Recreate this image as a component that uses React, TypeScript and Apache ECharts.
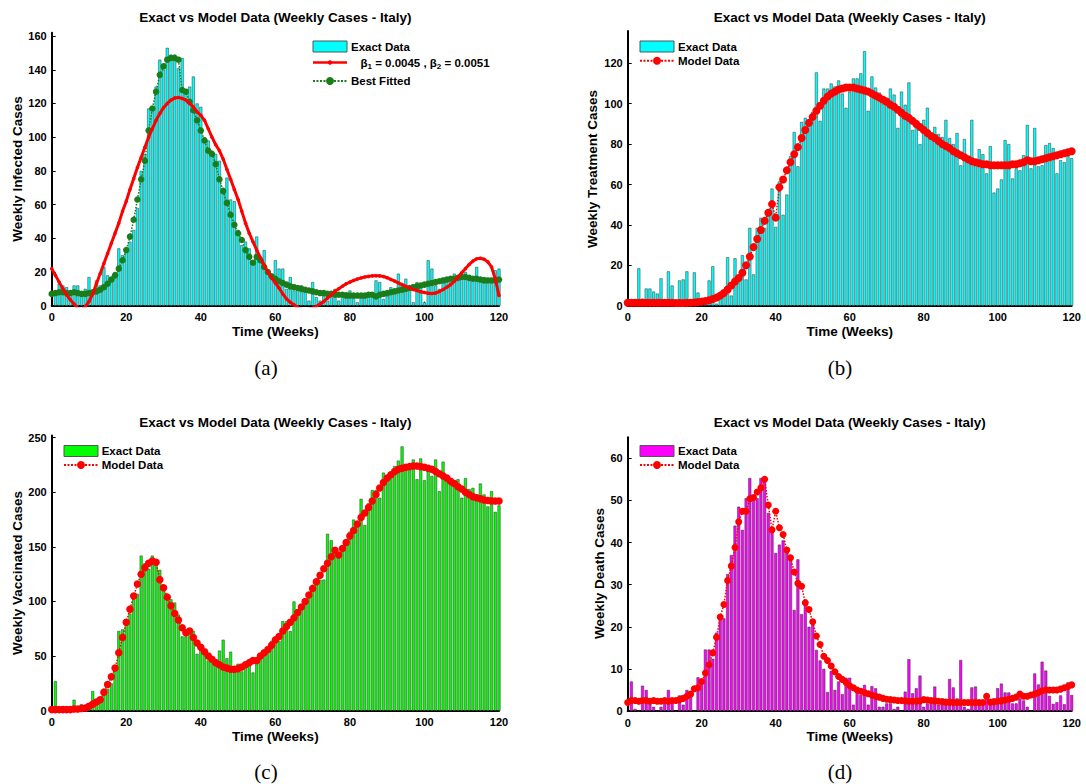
import { useEffect, useRef } from 'react';
import * as echarts from 'echarts';

// ---------- data (weeks 1..120 for bars, weeks 0..120 for model curves) ----------
const infectedBars = [7,13,12,11,8,12,12,6,10,17, 7,15,12,23,18,17,20,34,30,32, 38,45,58,80,90,117,117,130,146,140, 153,149,149,141,147,128,130,136,120,118, 100,98,92,90,86,70,76,63,62,45, 36,38,34,26,41,28,33,20,17,27, 22,22,10,17,9,12,12,10,3,14, 5,3,6,3,5,10,3,6,8,9, 5,2,5,7,8,8,15,14,4,6, 11,10,19,12,16,10,2,14,13,2, 27,22,12,10,15,16,17,19,16,17, 20,18,15,23,16,17,16,15,21,22];
const infectedBeta = [22,18,14,10,6.5,3.5,1,-1.5,-2.5,-0.5, 2.5,7,13,19,25,31,37,43,49,56, 62,69,75.5,82,88,94,100,105,110,114, 117.5,120,122,123.2,123.6,123,122,120,118,115, 113,110,105,100,95.5,92,87,81,75,69, 63,56,49,43,38,33,28.5,24,20,16.5, 13.5,10.5,7,4,2,0.5,-1,-2,-2.5,-2, -1.5,-0.3,1,2.5,4.5,6.5,8.5,10,11.5,13, 14,15,15.8,16.5,17,17.4,17.7,17.8,17.7,17.3, 16.6,15.6,14.6,13.5,12.5,11.5,10.5,9.6,9,8.3, 7.8,7.4,7.3,7.6,8.4,9.6,11,12.5,14.5,17, 19.5,22,24.5,26.5,27.8,28.2,27.6,26,23,16, 6];
const infectedBest = [7,7.5,8,8,7.5,7.5,8,7.5,7,7, 7.5,8,8.5,9.5,11,13,15.5,18,22,27, 33,41,51,63,75,86,104,117,127,137, 142,146,147,147,146,128,127,121,116,110, 104,98,92,90,84,75,68,61,54,48, 43,39,33,29,25.5,29,27,23,20,17.5, 16,14.5,13.5,12.5,11.5,11,10.5,10,9.5,9, 8.5,8,7.5,7.5,7,7,6.5,6.5,6.5,6, 6,6,6,6,6,6.5,6.5,5.5,6.5,7, 7.5,8,8.5,9,9.5,10,10.5,11,11.5,12, 12.5,13,13.5,14,14.5,15,15.5,16,16,16.5, 17,17,16.5,16,16,15.5,15,15,15,15, 15.5];

const treatmentBars = [3,1,18.5,3.5,8.5,8.5,7,6,13.5,1, 17,10,1,12.5,13,17,1,16.5,6.5,1, 1,12.5,19.5,1,6.5,6,24,5,23.5,13, 25,13,38.5,15.5,38.5,43.5,38.5,45,58,39, 61.5,45,55,74,86,69,91,93,90,96, 115.5,91.5,107.5,107.5,110,108.5,111.5,105,98,106, 112.5,112.5,115,126,96.5,113.5,108,105.5,100,103, 107.5,104.5,88,106,99.5,110.5,87,89,80,92, 98,85,88.5,85,83.5,92,83,80,85.5,69.5, 82.5,72.5,92,72,77.5,75,65.5,79,56,58, 62.5,82,80,63,68,67,74.5,89.5,68,88, 69,69.5,79.5,80.5,78,65.5,72,71,74,73];
const treatmentModel = [1.5,1.5,1.5,1.5,1.5,1.5,1.5,1.5,1.5,1.5, 1.5,1.5,1.5,1.3,1.3,1.3,1.4,1.5,1.6,1.8, 2,2.3,2.7,3.3,4,5,6.3,8,10,12, 13.7,16.3,20,24.3,29,33,37.5,42,46,50.3, 43.6,58.6,62.5,67,71,75,78.5,83,87,90.5, 93.5,96.5,99,101.5,103.5,105,106,107,107.5,108, 108,108,107.5,107,106.5,106,105,104,103,102, 101,99.5,98.5,97,95.5,94,93,91.5,90,88.5, 87,85.5,84,83,81.5,80,79,78,76.5,75.5, 74.5,73.5,72.5,71.5,71,70.5,70,70,69.5,69.5, 69.5,69.5,69.5,69.5,70,70,70.5,71,72,71.5, 71.5,72,72.5,73,73.5,74,74.5,75,75.5,76, 76.5];

const vaccinatedBars = [27,1,1,1,1,10,2,6,5,4, 18,8,10,18,20,25,40,73,74.5,83, 89,102,107,142,135,130,142,138,129,115, 103,102,99,88,68,68,74,73,52,60, 56,46,45,45,55,65,48,54,36,43, 36,45,43,35,45,52,50,55,64,68, 64,82,82,73,100,92,92,98,108,114, 121,120,120,162,156,144,141,150,156,164, 175,170,194,170,190,202,202,195,218,215, 218,224,229,242,222,226,230,212,231,211, 222,215,230,201,228,216,207,210,212,195, 213,203,204,198,208,198,187,201,182,188];
const vaccinatedModel = [1,1,1,1,1,1,1.5,1.5,2,2.5, 4,6,8,10,17,24,31,39,53,67, 81,93,105,116,125,131,135,137,136,120, 112.6,104,96,89,83,76,71.4,73,67,62, 58,54,50,47,44,42,40,39,38,38, 38.5,40,42,44,46,46,50,53,56,60, 64.7,68,73,77,81,85,90,95,100,106, 112,118,124,130,135,141,147,142.5,148.6,154, 160,165,171,177,181,186,192,198,204,209, 213,216,219,221,222,223,223.5,224,224,223.5, 223,222,221,219,217,215,213,210,208,205, 203,200,198,196,195,194,193,192.5,192,192, 192];

const deathBars = [7,0.5,0,6,5,2,1,0,1,3, 5,3,0,3.7,1.5,5,4,0,8,7, 14.6,14.6,12.4,18.6,22,22,32.5,37,44,48.5, 43,50.5,55.3,51,50.5,55.3,55,47,43,37.5, 39.5,40.5,37.5,37,24,36,23,26.5,20,21, 14.5,12,10,4.5,9.5,5,7,4,7.9,7.9, 1.5,4.5,3.8,6.2,1.5,5.9,5.4,1,1,1.8, 1.8,0.5,1,0,4.6,12.3,4.2,5.4,8.4,1, 1.8,2.5,5.8,1.5,3,1.5,7.6,5.6,3,12.1, 1,0.5,5.6,5.8,2,1.8,3,1.8,3,5.4, 6.5,4.4,4.4,1.8,1.8,3,2.5,1,0,8.9, 6.3,11.7,9.6,3.6,1.7,2.1,3.7,1.6,6.8,3.8];
const deathModel = [2,2.5,2.5,2.3,2.5,2.5,2.3,2.5,2.3,2.3, 2.5,2.3,2.5,2.5,2.7,3,3.5,4,5.3,5.5, 7,9,11,13.8,17.5,22.3,25.3,31,34.4,38.8, 44.9,47.4,47.4,50.4,50.7,52,53,55,48.9,43, 47.4,43.5,41.9,38.2,36.4,33,30.3,29.6,25.7,24.1, 21.2,17.8,15.8,13,12,10.7,9.3,8.2,7.5,6.8, 6,5.5,5,4.7,4.4,4.1,3.8,3.5,3.3,3, 2.8,2.7,2.6,2.5,2.5,2.4,2.3,2.3,2.3,2.4, 2.7,2.6,2.5,2.4,2.3,2.2,2.1,2.1,2,2, 2,2,2,2,2,2,2,3.5,2.1,2.2, 2.3,2.4,2.6,2.8,3,3.3,4,3.5,3.5,3.8, 4,4.4,4.8,5,5,5,5,5.2,5.5,5.8, 6.2];

const barWeeks = Array.from({ length: 120 }, (_, i) => i + 1);
const modelWeeks = Array.from({ length: 121 }, (_, i) => i);

const titleText = 'Exact vs Model Data (Weekly Cases - Italy)';
const xName = 'Time (Weeks)';
const yNames = ['Weekly Infected Cases', 'Weekly Treatment Cases', 'Weekly Vaccinated Cases', 'Weekly Death Cases'];
const captions = ['(a)', '(b)', '(c)', '(d)'];
const xTickInterval = 20;
const yMaxes = [162, 136, 252, 65];
const yIntervals = [20, 20, 50, 10];

const FONT = 'Arial, "Liberation Sans", Helvetica, sans-serif';

const grids = [
  { left: 51.7, top: 32.7, width: 447.3, height: 273 },
  { left: 627.7, top: 31, width: 444, height: 274.7 },
  { left: 51.7, top: 435.5, width: 447.3, height: 275.2 },
  { left: 627.7, top: 437.2, width: 444, height: 273.8 },
];

function pairs(xs: number[], ys: number[]) {
  return ys.map((v, i) => [xs[i], v]);
}

function txt(text: string, x: number, y: number, size: number, align = 'center', rot = 0, family = FONT, weight = 'bold') {
  return {
    type: 'text', x, y, z: 100, rotation: rot,
    style: {
      text, fill: '#000', font: `${weight} ${size}px ${family}`,
      textAlign: align, textVerticalAlign: 'middle',
    },
  };
}

export default function App() {
  const ref = useRef<HTMLDivElement>(null);
  useEffect(() => {
    const chart = echarts.init(ref.current!, undefined, { renderer: 'svg', width: 1086, height: 784 });

    const xAxes = grids.map((_, i) => ({
      type: 'value', gridIndex: i, min: 0, max: 120, interval: xTickInterval,
      axisLine: { show: true, lineStyle: { color: '#000', width: 2 } },
      axisTick: { show: true, inside: true, length: 4, lineStyle: { color: '#000', width: 1 } },
      axisLabel: { color: '#000', fontWeight: 'bold', fontSize: 11, fontFamily: FONT, margin: 6 },
      splitLine: { show: false },
    }));
    const yAxes = grids.map((_, i) => ({
      type: 'value', gridIndex: i, min: 0, max: yMaxes[i], interval: yIntervals[i],
      axisLine: { show: true, lineStyle: { color: '#000', width: 2 } },
      axisTick: { show: true, inside: true, length: 4, lineStyle: { color: '#000', width: 1 } },
      axisLabel: { color: '#000', fontWeight: 'bold', fontSize: 11, fontFamily: FONT, margin: 5, showMaxLabel: false },
      splitLine: { show: false },
    }));

    const bar = (name: string, data: number[], color: string, i: number) => ({
      type: 'bar', name, xAxisIndex: i, yAxisIndex: i,
      data: pairs(barWeeks, data), barWidth: 3,
      itemStyle: { color, borderColor: '#333333', borderWidth: 0.5 },
      z: 1,
    });
    const modelLine = (name: string, data: number[], i: number, size: number) => ({
      type: 'line', name, xAxisIndex: i, yAxisIndex: i, data: pairs(modelWeeks, data),
      symbol: 'circle', symbolSize: size, clip: true,
      lineStyle: { color: '#ff0000', width: 1.5, type: 'dotted' },
      itemStyle: { color: '#ff0000' }, z: 3,
    });

    const series: any[] = [
      bar('Exact Data a', infectedBars, '#00ffff', 0),
      {
        type: 'line', name: 'beta', xAxisIndex: 0, yAxisIndex: 0, data: pairs(modelWeeks, infectedBeta),
        symbol: 'circle', symbolSize: 3.5, clip: true,
        lineStyle: { color: '#ff0000', width: 3 }, itemStyle: { color: '#ff0000' }, z: 4,
      },
      {
        type: 'line', name: 'Best Fitted', xAxisIndex: 0, yAxisIndex: 0, data: pairs(modelWeeks, infectedBest),
        symbol: 'circle', symbolSize: 6.5, clip: true,
        lineStyle: { color: '#1a7d1a', width: 1.5, type: 'dotted' }, itemStyle: { color: '#1a7d1a' }, z: 3,
      },
      bar('Exact Data b', treatmentBars, '#00ffff', 1),
      modelLine('Model Data b', treatmentModel, 1, 8),
      bar('Exact Data c', vaccinatedBars, '#00ff00', 2),
      modelLine('Model Data c', vaccinatedModel, 2, 7.5),
      bar('Exact Data d', deathBars, '#ff00ff', 3),
      modelLine('Model Data d', deathModel, 3, 7),
    ];

    const centers = grids.map(g => g.left + g.width / 2);
    const graphics: any[] = [];
    const titleY = [17.5, 17.5, 422.5, 422.5];
    const xNameY = [331.5, 331.5, 736, 736];
    const yNameX = [17.5, 592.5, 17, 599];
    const yNameY = [169, 169, 573, 573.5];
    const capX = [266, 840, 266, 840];
    const capY = [368, 368, 772, 772];
    for (let i = 0; i < 4; i++) {
      graphics.push(txt(titleText, centers[i], titleY[i], 13.5));
      graphics.push(txt(xName, centers[i], xNameY[i], 13.5));
      graphics.push(txt(yNames[i], yNameX[i], yNameY[i], 13.5, 'center', Math.PI / 2));
      graphics.push(txt(captions[i], capX[i], capY[i], 21, 'center', 0, '"Liberation Serif", "Times New Roman", serif', 'normal'));
    }

    const legendRect = (x: number, y: number, color: string) => ({
      type: 'rect', z: 100, shape: { x, y, width: 34, height: 11 },
      style: { fill: color, stroke: '#555', lineWidth: 1 },
    });
    const legendLine = (x: number, y: number, color: string, dotted: boolean, w: number, r: number) => ([
      { type: 'line', z: 100, shape: { x1: x, y1: y, x2: x + 34, y2: y }, style: { stroke: color, lineWidth: w, lineDash: dotted ? [2, 1.5] : null } },
      { type: 'circle', z: 101, shape: { cx: x + 17, cy: y, r }, style: { fill: color } },
    ]);
    // (a)
    graphics.push(legendRect(313, 41, '#00ffff'));
    graphics.push(txt('Exact Data', 351, 46.5, 11.5, 'left'));
    graphics.push(...legendLine(313, 62.5, '#ff0000', false, 2.5, 2.2));
    graphics.push({
      type: 'text', x: 360.5, y: 62.5, z: 100,
      style: {
        text: '{m|β}{s|1}{m| = 0.0045 , β}{s|2}{m| = 0.0051}',
        fill: '#000', font: `bold 11.5px ${FONT}`, textAlign: 'left', textVerticalAlign: 'middle',
        rich: {
          m: { fontSize: 11.5, fontWeight: 'bold', fontFamily: FONT, lineHeight: 16, verticalAlign: 'middle', fill: '#000', textFill: '#000' },
          s: { fontSize: 8, fontWeight: 'bold', fontFamily: FONT, lineHeight: 9, verticalAlign: 'bottom', fill: '#000', textFill: '#000' },
        },
      },
    });
    graphics.push(...legendLine(313, 81, '#1a7d1a', true, 2, 4));
    graphics.push(txt('Best Fitted', 351, 81, 11.5, 'left'));
    // (b)
    graphics.push(legendRect(640, 41, '#00ffff'));
    graphics.push(txt('Exact Data', 678, 46.5, 11.5, 'left'));
    graphics.push(...legendLine(640, 60.7, '#ff0000', true, 2, 4));
    graphics.push(txt('Model Data', 678, 60.7, 11.5, 'left'));
    // (c)
    graphics.push(legendRect(64, 445.5, '#00ff00'));
    graphics.push(txt('Exact Data', 101.7, 451, 11.5, 'left'));
    graphics.push(...legendLine(64, 465, '#ff0000', true, 2, 4));
    graphics.push(txt('Model Data', 101.7, 465, 11.5, 'left'));
    // (d)
    graphics.push(legendRect(640, 445.5, '#ff00ff'));
    graphics.push(txt('Exact Data', 678, 451, 11.5, 'left'));
    graphics.push(...legendLine(640, 465, '#ff0000', true, 2, 4));
    graphics.push(txt('Model Data', 678, 465, 11.5, 'left'));

    chart.setOption({
      animation: false,
      backgroundColor: '#ffffff',
      grid: grids.map(g => ({ ...g, containLabel: false })),
      xAxis: xAxes,
      yAxis: yAxes,
      series,
      graphic: { elements: graphics },
    } as any);
    return () => chart.dispose();
  }, []);
  return <div ref={ref} style={{ position: 'fixed', left: 0, top: 0, width: 1086, height: 784, background: '#fff' }} />;
}
